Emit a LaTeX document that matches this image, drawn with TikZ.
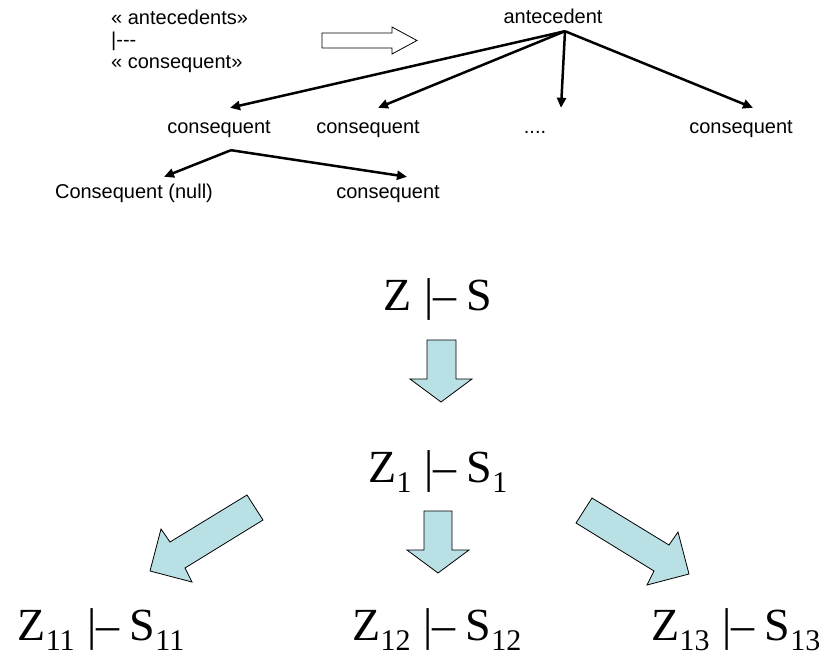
\documentclass[tikz,border=0pt]{standalone}
\usepackage{fontspec}
\setmainfont{Liberation Serif}
\newfontfamily\arialfont{Liberation Sans}
\usetikzlibrary{arrows.meta}
\definecolor{arrowfill}{RGB}{185,224,228}
\newcommand{\sbs}[1]{\raisebox{-10pt}{\fontsize{30}{30}\selectfont #1}}
\newcommand{\turn}{\hspace{13pt}|\textendash\hspace{10pt}}
\tikzset{
  small/.style={font=\arialfont\fontsize{20}{24}\selectfont, inner sep=0pt, text height=14pt, text depth=4pt},
  big/.style={font=\fontsize{46}{50}\selectfont, inner sep=0pt, anchor=base},
  tree/.style={line width=2.5pt, -{Triangle[length=10pt,width=9pt]}},
  blockarrow/.style={fill=arrowfill, draw=black, line width=0.8pt, line join=miter},
}
\begin{document}
\begin{tikzpicture}[x=1pt,y=-1pt]
    \useasboundingbox (0,0) rectangle (827,656);
    % rule written out on the left
    \node[small,anchor=west] (L1) at (111,19) {«~antecedents»};
    \node[small,anchor=west] (L2) at (111,41) {|-{}-{}-};
    \node[small,anchor=west] (L3) at (111,63) {«~consequent»};
    \draw[line width=0.8pt] (322,33) -- (392,33) -- (392,27) -- (417,40.5) -- (392,54) -- (392,48) -- (322,48) -- cycle;
    % tree
    \node[small] (R) at (553,18) {antecedent};
    \node[small] (C1) at (219,128) {consequent};
    \node[small] (C2) at (368,128) {consequent};
    \node[small] (C3) at (535,128) {....};
    \node[small] (C4) at (741,128) {consequent};
    \node[small] (C11) at (134,193) {Consequent (null)};
    \node[small] (C12) at (388,193) {consequent};
    \coordinate (O) at ([xshift=12pt,yshift=-4pt]R.south);
    \draw[tree] (O) -- ([xshift=11pt,yshift=11pt]C1.north);
    \draw[tree] (O) -- ([xshift=10pt,yshift=11pt]C2.north);
    \draw[tree] (O) -- ([xshift=26pt,yshift=11pt]C3.north);
    \draw[tree] (O) -- ([xshift=12pt,yshift=11pt]C4.north);
    \coordinate (O1) at ([xshift=12pt,yshift=-13pt]C1.south);
    \draw[tree] (O1) -- ([xshift=30pt,yshift=7pt]C11.north);
    \draw[tree] (O1) -- ([xshift=19pt,yshift=7pt]C12.north);
    % sequents
    \node[big] (S) at (438,310) {Z\turn S};
    \node[big] (S1) at (438,482) {Z\sbs{1}\turn S\sbs{1}};
    \node[big] (S11) at (101,640) {Z\sbs{11}\turn S\sbs{11}};
    \node[big] (S12) at (437,640) {Z\sbs{12}\turn S\sbs{12}};
    \node[big] (S13) at (736,640) {Z\sbs{13}\turn S\sbs{13}};
    % block arrows
    \draw[blockarrow] (427,340) -- (456,340) -- (456,379) -- (472,379) -- (441,402) -- (410,379) -- (427,379) -- cycle;
    \draw[blockarrow] (424,511) -- (452,511) -- (452,550) -- (469,550) -- (438,573) -- (407,550) -- (424,550) -- cycle;
    \draw[blockarrow] (247,495) -- (263,520) -- (185,568) -- (192,582) -- (150,571) -- (161,529) -- (170,542) -- cycle;
    \draw[blockarrow] (592,498) -- (576,523) -- (654,571) -- (647,585) -- (689,574) -- (678,532) -- (669,545) -- cycle;
\end{tikzpicture}
\end{document}
